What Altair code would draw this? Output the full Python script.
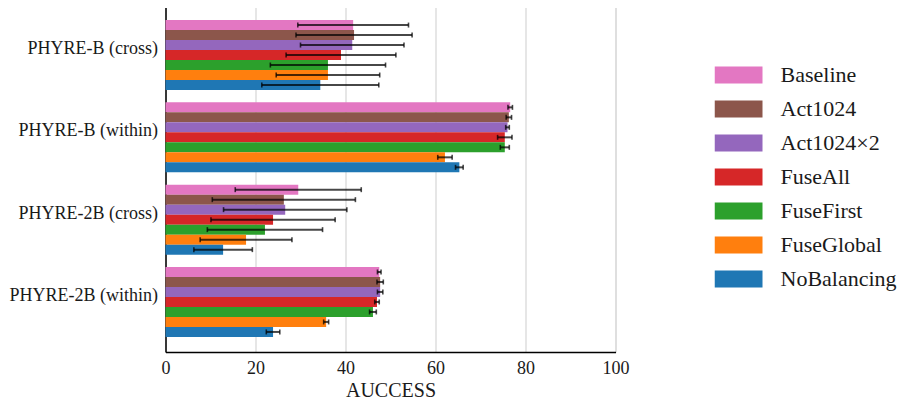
import altair as alt
import pandas as pd

groups = ["PHYRE-B (cross)", "PHYRE-B (within)", "PHYRE-2B (cross)", "PHYRE-2B (within)"]
models = ["Baseline", "Act1024", "Act1024×2", "FuseAll", "FuseFirst", "FuseGlobal", "NoBalancing"]
colors = ["#e377c2", "#8c564b", "#9467bd", "#d62728", "#2ca02c", "#ff7f0e", "#1f77b4"]

baseline = [41.7, 76.6, 29.5, 47.5]
baseline_err = [12.3, 0.5, 14.0, 0.4]
act1024 = [41.9, 76.3, 26.3, 47.7]
act1024_err = [12.9, 0.6, 15.9, 0.7]
act1024x2 = [41.5, 76.0, 26.6, 47.7]
act1024x2_err = [11.5, 0.4, 13.7, 0.6]
fuseall = [39.0, 75.4, 23.9, 47.0]
fuseall_err = [12.2, 1.6, 13.8, 0.5]
fusefirst = [36.1, 75.4, 22.1, 46.1]
fusefirst_err = [12.8, 1.0, 12.8, 0.75]
fuseglobal = [36.1, 62.1, 17.9, 35.7]
fuseglobal_err = [11.5, 1.6, 10.2, 0.55]
nobalancing = [34.4, 65.3, 12.8, 23.9]
nobalancing_err = [13.0, 0.85, 6.5, 1.5]

x_ticks = [0, 20, 40, 60, 80, 100]

series = [
    (models[0], baseline, baseline_err),
    (models[1], act1024, act1024_err),
    (models[2], act1024x2, act1024x2_err),
    (models[3], fuseall, fuseall_err),
    (models[4], fusefirst, fusefirst_err),
    (models[5], fuseglobal, fuseglobal_err),
    (models[6], nobalancing, nobalancing_err),
]
rows = []
for m, vals, errs in series:
    for g, v, e in zip(groups, vals, errs):
        rows.append({"group": g, "model": m, "value": v, "lo": v - e, "hi": v + e})
df = pd.DataFrame(rows)

FONT = "Liberation Serif"
TXT = "#1a1a1a"

y_enc = alt.Y(
    "group:N",
    sort=groups,
    title=None,
    scale=alt.Scale(paddingInner=0.15, paddingOuter=0.183),
    axis=alt.Axis(
        labelFont=FONT, labelFontSize=18, labelColor=TXT, ticks=False,
        labelPadding=8, labelOffset=-6, domainColor="black", domainWidth=1.5,
        grid=False, labelLimit=300,
    ),
)
yoff = alt.YOffset("model:N", sort=models, scale=alt.Scale(paddingInner=0, paddingOuter=0))


def xenc(field):
    return alt.X(
        f"{field}:Q",
        title="AUCCESS",
        scale=alt.Scale(domain=[0, 100], nice=False),
        axis=alt.Axis(
            values=x_ticks, labelFont=FONT, labelFontSize=18, labelColor=TXT,
            titleFont=FONT, titleFontSize=20, titleFontWeight="normal", titleColor=TXT,
            ticks=False, labelPadding=7, titlePadding=3, labelFlush=False,
            domainColor="black", domainWidth=1.5,
            grid=True, gridColor="#d6d6d6", gridWidth=1.2,
        ),
    )


legend = alt.Legend(
    title=None, orient="none", legendX=549, legendY=60,
    symbolType="M-1,-0.354L1,-0.354L1,0.354L-1,0.354Z", symbolSize=2304,
    symbolStrokeWidth=0, labelFont=FONT, labelFontSize=22, labelColor=TXT,
    labelOffset=18, clipHeight=20, rowPadding=12, symbolOpacity=1,
)

bars = alt.Chart(df).mark_bar(opacity=1, strokeWidth=0).encode(
    x=xenc("value"),
    y=y_enc,
    yOffset=yoff,
    color=alt.Color("model:N", sort=models, scale=alt.Scale(domain=models, range=colors), legend=legend),
)

rules = alt.Chart(df).mark_rule(color="black", opacity=0.72, strokeWidth=2).encode(
    x=xenc("lo"), x2="hi:Q", y=y_enc, yOffset=yoff,
)
cap_lo = alt.Chart(df).mark_tick(color="black", opacity=0.72, thickness=1.6, size=5, orient="vertical").encode(
    x=xenc("lo"), y=y_enc, yOffset=yoff,
)
cap_hi = alt.Chart(df).mark_tick(color="black", opacity=0.72, thickness=1.6, size=5, orient="vertical").encode(
    x=xenc("hi"), y=y_enc, yOffset=yoff,
)

chart = alt.layer(bars, rules, cap_lo, cap_hi).properties(
    width=450, height=347,
    autosize=alt.AutoSizeParams(type="none"),
    padding={"left": 157.5, "top": -3, "right": 283, "bottom": 48},
).configure_view(stroke=None).configure(background="white")

chart.save("out.html", embed_options={"renderer": "svg", "actions": False})
